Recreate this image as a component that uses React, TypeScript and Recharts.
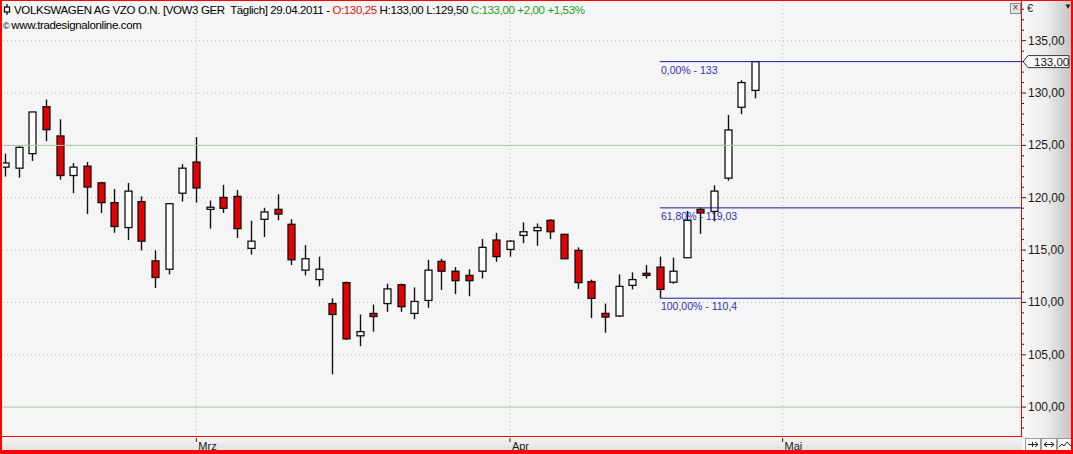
import React from "react";
import {
  ComposedChart,
  Bar,
  XAxis,
  YAxis,
  CartesianGrid,
  ReferenceLine,
} from "recharts";

// VOW3 Tageskerzen
const dates = [
  "09.02.2011", "10.02.2011", "11.02.2011", "14.02.2011", "15.02.2011", "16.02.2011", "17.02.2011",
  "18.02.2011", "21.02.2011", "22.02.2011", "23.02.2011", "24.02.2011", "25.02.2011", "28.02.2011",
  "01.03.2011", "02.03.2011", "03.03.2011", "04.03.2011", "07.03.2011", "08.03.2011", "09.03.2011",
  "10.03.2011", "11.03.2011", "14.03.2011", "15.03.2011", "16.03.2011", "17.03.2011", "18.03.2011",
  "21.03.2011", "22.03.2011", "23.03.2011", "24.03.2011", "25.03.2011", "28.03.2011", "29.03.2011",
  "30.03.2011", "31.03.2011", "01.04.2011", "04.04.2011", "05.04.2011", "06.04.2011", "07.04.2011",
  "08.04.2011", "11.04.2011", "12.04.2011", "13.04.2011", "14.04.2011", "15.04.2011", "18.04.2011",
  "19.04.2011", "20.04.2011", "21.04.2011", "26.04.2011", "27.04.2011", "28.04.2011", "29.04.2011",
];
const opens = [
  122.92, 122.82, 124.21, 128.69, 125.9, 122.12, 123.01, 121.42, 119.53, 117.15, 119.63, 113.97, 113.17, 120.43,
  123.41, 118.89, 120.03, 120.13, 115.16, 117.94, 118.89, 117.46, 113.08, 112.18, 109.89, 111.89, 106.81, 108.95,
  109.89, 111.69, 108.95, 110.19, 113.92, 112.98, 112.58, 112.98, 115.96, 115.06, 116.4, 116.85, 117.84, 116.5,
  114.97, 111.99, 108.95, 108.7, 111.63, 112.78, 113.37, 111.93, 114.27, 118.89, 118.69, 121.87, 128.64, 130.25,
];
const highs = [
  124.21, 124.91, 128.19, 129.38, 127.49, 123.31, 123.41, 121.52, 120.83, 121.42, 120.13, 114.97, 119.43, 123.21,
  125.8, 119.73, 121.23, 120.73, 117.81, 119.04, 120.33, 117.94, 115.47, 114.37, 110.39, 111.99, 108.85, 109.79,
  111.79, 111.79, 111.44, 114.07, 114.17, 113.37, 113.17, 116.06, 116.65, 115.96, 117.64, 117.54, 117.94, 116.55,
  115.26, 112.18, 109.89, 112.68, 112.87, 113.57, 114.37, 114.27, 118.74, 119.09, 121.18, 127.91, 131.22, 133.0,
];
const lows = [
  122.02, 121.92, 123.51, 125.4, 121.72, 120.43, 118.44, 118.54, 116.65, 115.95, 114.97, 111.38, 112.68, 119.63,
  119.53, 117.05, 118.54, 116.15, 114.57, 116.25, 117.84, 113.57, 112.58, 111.53, 103.13, 106.42, 105.82, 107.21,
  109.1, 109.1, 108.4, 109.49, 111.19, 110.79, 110.59, 112.28, 113.87, 114.37, 115.65, 115.41, 116.05, 114.17,
  111.29, 108.5, 107.11, 108.6, 111.24, 112.28, 110.4, 111.78, 114.27, 116.55, 117.74, 121.62, 127.99, 129.5,
];
const closes = [
  123.32, 124.81, 128.19, 126.5, 122.12, 122.92, 121.02, 119.53, 117.25, 120.63, 115.85, 112.38, 119.43, 122.82,
  120.93, 119.09, 118.99, 117.05, 115.85, 118.64, 118.44, 114.07, 114.17, 113.17, 108.85, 106.52, 107.21, 108.65,
  111.29, 109.59, 110.09, 113.08, 112.98, 112.08, 112.08, 115.26, 114.37, 115.85, 116.75, 117.15, 116.75, 114.17,
  111.89, 110.39, 108.6, 111.53, 112.18, 112.58, 111.24, 112.98, 117.84, 118.54, 120.63, 126.47, 131.0, 133.0,
];

// Monatsmarken auf der Zeitachse (Slot = Handelstag-Index)
const monthLabels = ["Mrz", "Apr", "Mai"];
const monthSlots = [14, 37, 57];

const priceGrid = [100, 105, 110, 115, 120, 125, 130, 135];
const horizontalLines = [125, 100];

// Fibonacci-Retracement vom Tief 18.04. bis Hoch 29.04.
const fibRatios = [0, 0.618, 1];
const fibLowDate = "18.04.2011";
const fibHighDate = "29.04.2011";

const title = "VOLKSWAGEN AG VZO O.N. [VOW3 GER  Täglich]";
const source = "www.tradesignalonline.com";

const W = 1073;
const H = 454;
const xDomain: [number, number] = [-0.18, 74.56];
const yDomain: [number, number] = [97.24, 138.79];
const FONT = "'Liberation Sans', Arial, sans-serif";

const candles = dates.map((date, i) => ({
  slot: i,
  date,
  open: opens[i],
  high: highs[i],
  low: lows[i],
  close: closes[i],
  range: [lows[i], highs[i]],
}));

const minorTicks: number[] = [];
for (let v = Math.ceil(yDomain[0]); v <= Math.floor(yDomain[1]); v++) minorTicks.push(v);

// gepunktete Rasterlinien nur dort, wo keine durchgezogene Linie liegt
const dottedGrid = priceGrid.filter((v) => !horizontalLines.includes(v));

const de = (v: number, d = 2) => v.toFixed(d).replace(".", ",");

const fibLowIdx = dates.indexOf(fibLowDate);
const fibHighIdx = dates.indexOf(fibHighDate);
const fibLow = lows[fibLowIdx];
const fibHigh = highs[fibHighIdx];
const fibLevels = fibRatios.map((r) => ({
  ratio: r,
  value: Number((fibHigh - r * (fibHigh - fibLow)).toFixed(2)),
}));

const last = candles.length - 1;
const change = closes[last] - closes[last - 1];
const changePct = (change / closes[last - 1]) * 100;

function Candle(props: any) {
  const { x, y, width, height, payload } = props;
  if (x == null || !payload) return null;
  const top = Math.min(y, y + height);
  const h = Math.abs(height);
  const { open, high, low, close } = payload;
  const ppu = h / (high - low);
  const cx = Math.round(x + width / 2) + 0.5;
  const bTop = top + (high - Math.max(open, close)) * ppu;
  const bBot = top + (high - Math.min(open, close)) * ppu;
  const bw = 7;
  return (
    <g>
      <line x1={cx} x2={cx} y1={top} y2={top + h} stroke="#111" strokeWidth={1.4} />
      <rect
        x={cx - bw / 2}
        y={bTop}
        width={bw}
        height={Math.max(bBot - bTop, 1.5)}
        fill={close >= open ? "#ffffff" : "#e30000"}
        stroke="#111"
        strokeWidth={1.3}
      />
    </g>
  );
}

function PriceTick(props: any) {
  const { x, y, payload } = props;
  const v = payload.value;
  const major = v % 5 === 0;
  return (
    <g>
      <line x1={x} x2={x + (major ? 4 : 2)} y1={y} y2={y} stroke="#222" />
      {major && (
        <text x={x + 6} y={y + 4} fontSize={12} fontFamily={FONT} fill="#1a1a1a">
          {de(v)}
        </text>
      )}
    </g>
  );
}

function MonthTick(props: any) {
  const { x, y, payload } = props;
  const label = monthLabels[monthSlots.indexOf(payload.value)];
  return (
    <g>
      <line x1={x} x2={x} y1={y} y2={y + 4} stroke="#222" />
      <text x={x + 2} y={y + 12} fontSize={11} fontFamily={FONT} fill="#1a1a1a">
        {label}
      </text>
    </g>
  );
}

function FibLabel(props: any) {
  const { viewBox, text } = props;
  if (!viewBox) return null;
  return (
    <text x={viewBox.x + 1} y={viewBox.y + 12} fontSize={10.5} fontFamily={FONT} fill="#2f2fc4">
      {text}
    </text>
  );
}

function PriceTag(props: any) {
  const { viewBox, text } = props;
  if (!viewBox) return null;
  const x0 = viewBox.x + viewBox.width;
  const y0 = viewBox.y;
  return (
    <g>
      <polygon
        points={`${x0 + 1},${y0} ${x0 + 6},${y0 - 6} ${x0 + 47},${y0 - 6} ${x0 + 47},${y0 + 6} ${x0 + 6},${y0 + 6}`}
        fill="#ffffff"
        stroke="#333"
        strokeWidth={1}
      />
      <text x={x0 + 12} y={y0 + 4} fontSize={11.5} fontFamily={FONT} fill="#111">
        {text}
      </text>
    </g>
  );
}

// kleine Schaltflaechen unten rechts
function ToolIcon({ kind }: { kind: number }) {
  return (
    <svg width={14} height={11} style={{ display: "block", border: "1px solid #9a9a9a", background: "#f8f8f8" }}>
      {kind === 0 && (
        <g stroke="#222" strokeWidth={1} fill="none">
          <line x1={2} x2={12} y1={5.5} y2={5.5} />
          <polyline points="9,3 12,5.5 9,8" />
          <line x1={6.5} x2={6.5} y1={3} y2={8} />
        </g>
      )}
      {kind === 1 && (
        <g stroke="#222" strokeWidth={1} fill="none">
          <line x1={2} x2={12} y1={5.5} y2={5.5} />
          <polyline points="9,3 12,5.5 9,8" />
          <polyline points="5,3 2,5.5 5,8" />
        </g>
      )}
      {kind === 2 && (
        <polyline points="1,8 4,5 6,7 9,3 13,7" stroke="#222" strokeWidth={1} fill="none" />
      )}
    </svg>
  );
}

const headerStyle: React.CSSProperties = {
  position: "absolute",
  left: 3,
  fontSize: 11.5,
  whiteSpace: "pre",
  color: "#000",
  lineHeight: "14px",
  letterSpacing: -0.37,
};

export default function App() {
  return (
    <div
      style={{
        position: "absolute",
        left: 0,
        top: 0,
        width: W,
        height: H,
        background: "#f5f5f5",
        overflow: "hidden",
        fontFamily: FONT,
      }}
    >
      <div
        style={{
          position: "absolute",
          left: 1022,
          top: 0,
          width: 51,
          height: H,
          background: "linear-gradient(to right, #f7f7f7 0%, #eeeeee 45%, #c2c2c2 100%)",
        }}
      />
      <div
        style={{
          position: "absolute",
          left: 0,
          top: 437,
          width: 1022,
          height: 17,
          background: "linear-gradient(to bottom, #f6f6f6, #dcdcdc)",
        }}
      />
      <div style={{ position: "absolute", left: 0, top: 0 }}>
        <ComposedChart width={W} height={H} data={candles} margin={{ top: 1, right: 2, bottom: 4, left: 3 }}>
          <CartesianGrid
            fill="#f5f5f5"
            stroke="#b9b9b9"
            strokeDasharray="1 3"
            horizontalValues={dottedGrid}
            verticalValues={monthSlots}
          />
          <XAxis
            dataKey="slot"
            type="number"
            domain={xDomain}
            allowDataOverflow
            ticks={monthSlots}
            interval={0}
            tick={<MonthTick />}
            tickLine={false}
            axisLine={false}
            tickSize={0}
            height={14}
          />
          <YAxis
            orientation="right"
            type="number"
            domain={yDomain}
            allowDataOverflow
            ticks={minorTicks}
            interval={0}
            tick={<PriceTick />}
            tickLine={false}
            axisLine={false}
            tickSize={0}
            tickMargin={0}
            width={49}
          />
          {horizontalLines.map((v) => (
            <ReferenceLine key={v} y={v} stroke="#a3c6a3" strokeWidth={1} />
          ))}
          <Bar dataKey="range" barSize={9} shape={(p: any) => <Candle {...p} />} isAnimationActive={false} />
          {fibLevels.map((f) => (
            <ReferenceLine
              key={f.ratio}
              segment={[
                { x: fibLowIdx, y: f.value },
                { x: xDomain[1], y: f.value },
              ]}
              stroke="#1c1c9c"
              strokeWidth={1}
              label={<FibLabel text={`${de(f.ratio * 100)}% - ${String(f.value).replace(".", ",")}`} />}
            />
          ))}
          <ReferenceLine y={closes[last]} stroke="none" label={<PriceTag text={de(closes[last])} />} />
        </ComposedChart>
      </div>

      {/* Kopfzeile */}
      <div style={{ ...headerStyle, top: 3 }}>
        <svg width={8} height={11} style={{ verticalAlign: "-1px", marginRight: 3 }}>
          <line x1={4} x2={4} y1={0} y2={11} stroke="#000" strokeWidth={1.2} />
          <rect x={1.5} y={3} width={5} height={5} fill="#fff" stroke="#000" strokeWidth={1.2} />
        </svg>
        {`${title} ${dates[last]} - `}
        <span style={{ color: "#e01010" }}>{`O:${de(opens[last])}`}</span>
        {` H:${de(highs[last])} L:${de(lows[last])} `}
        <span style={{ color: "#1e9e1e" }}>{`C:${de(closes[last])} +${de(change)} +${de(changePct)}%`}</span>
      </div>
      <div style={{ ...headerStyle, top: 18 }}>
        <span style={{ fontSize: 9, marginRight: 2 }}>©</span>
        {source}
      </div>

      {/* Bedienelemente */}
      <div
        style={{
          position: "absolute",
          left: 1010,
          top: 3,
          width: 9,
          height: 9,
          border: "1px solid #8c8c8c",
          background: "#e4e4e4",
          fontSize: 10,
          lineHeight: "8px",
          textAlign: "center",
          color: "#444",
        }}
      >
        ×
      </div>
      <div style={{ position: "absolute", left: 1027, top: 2, fontSize: 11, color: "#222" }}>€</div>
      <div style={{ position: "absolute", left: 1064, top: 2, fontSize: 8, color: "#222" }}>▼</div>
      <div style={{ position: "absolute", left: 1025, top: 438, display: "flex", gap: 0 }}>
        {[0, 1, 2].map((k) => (
          <ToolIcon key={k} kind={k} />
        ))}
      </div>

      {/* roter Rahmen */}
      <div style={{ position: "absolute", left: 0, top: 436, width: 1022, height: 1, background: "#ff0000" }} />
      <div style={{ position: "absolute", left: 1021, top: 0, width: 1, height: 437, background: "#ff0000" }} />
      <div
        style={{
          position: "absolute",
          left: 0,
          top: 0,
          width: W,
          height: H,
          boxSizing: "border-box",
          borderStyle: "solid",
          borderColor: "#ff0000",
          borderWidth: "1px 2px 4px 2px",
          pointerEvents: "none",
        }}
      />
    </div>
  );
}
